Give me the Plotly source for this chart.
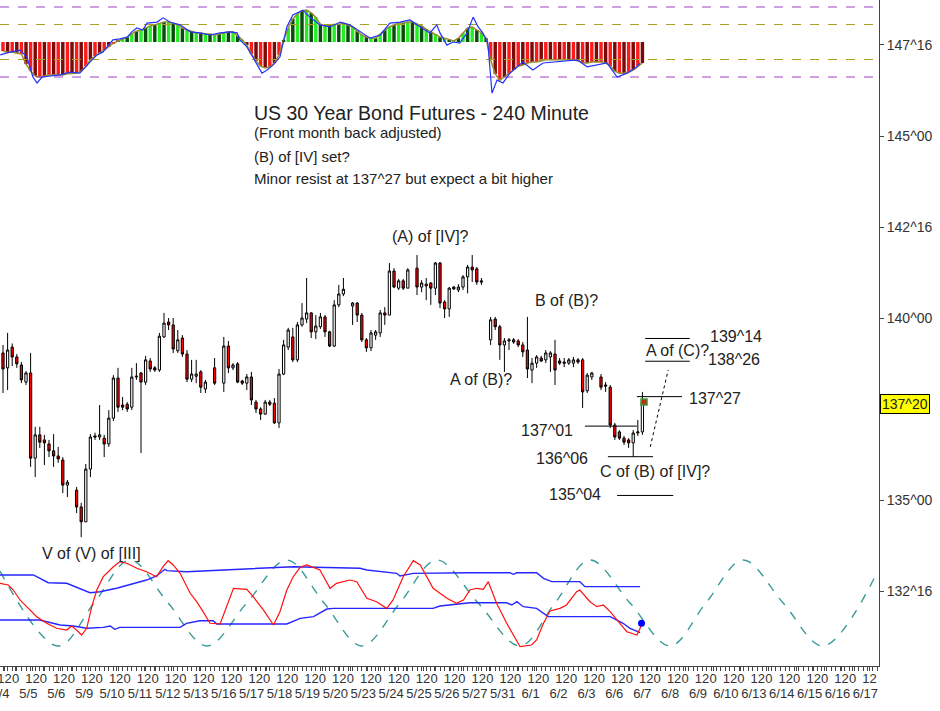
import plotly.graph_objects as go

# ---------------- price data (4-hour bars, bar index) ----------------
bar_idx = [0,1,2,3,4,5,6,7,8,9,10,11,12,13,14,16,17,18,19,20,21,22,23,24,25,26,27,28,29,30,
           31,32,33,34,35,36,37,38,39,40,41,42,43,44,46,48,49,50,51,52,53,54,55,56,57,58,59,60,
           61,62,63,64,65,66,67,68,69,70,71,72,73,74,76,77,78,79,80,81,82,83,84,85,86,87,88,90,
           91,92,93,94,95,96,97,98,99,100,101,102,103,104,106,107,108,109,110,111,112,113,114,
           115,116,117,118,119,120,121,122,123,124,125,126,127,128,130,131,132,133,134,135,136,
           137,138,139]
opens = [139.04,138.63,139.20,138.93,138.71,138.24,138.49,136.15,136.79,136.65,136.54,136.35,136.21,136.10,135.41,
         135.27,134.81,134.40,135.85,136.76,136.73,136.70,136.54,137.25,138.35,137.61,137.63,137.55,138.38,138.49,
         138.24,138.82,138.63,138.57,139.48,139.89,139.81,139.10,139.45,139.01,138.32,138.40,138.52,138.05,138.63,
         138.21,139.23,138.63,138.74,138.27,138.21,138.38,137.69,137.50,137.36,137.69,137.66,137.12,138.46,139.20,
         139.48,138.85,139.81,139.97,140.14,139.62,139.76,140.03,139.62,139.23,140.36,140.66,140.33,140.41,140.08,
         139.40,139.18,139.53,139.59,140.14,140.08,141.29,140.82,141.02,140.82,141.37,140.85,140.88,140.96,140.82,
         141.51,140.44,140.25,140.85,140.77,140.85,141.13,141.40,141.35,141.02,139.40,139.97,139.76,139.26,139.37,
         139.40,139.37,139.26,139.12,138.57,138.76,138.90,138.85,138.93,139.01,138.82,138.79,138.76,138.76,138.85,
         138.85,138.00,138.38,138.38,138.16,138.10,137.06,136.87,136.70,136.65,136.57,136.84,136.87]
highs = [139.26,139.59,139.30,139.01,138.79,138.54,139.04,137.01,137.01,136.79,136.65,136.81,136.46,136.18,135.55,
         135.36,134.92,135.99,136.81,136.85,137.61,136.79,137.47,138.43,138.63,137.83,137.69,138.63,138.76,138.52,
         138.96,138.90,138.68,139.59,140.14,140.00,140.00,139.67,139.53,139.12,138.85,138.85,138.57,138.30,138.90,
         139.48,139.37,138.76,138.79,138.30,138.46,138.52,137.75,137.55,137.75,137.75,137.80,138.60,139.40,139.73,
         139.73,139.89,140.41,141.10,140.16,140.08,140.14,140.08,139.65,140.49,140.91,141.10,140.44,140.44,140.14,
         139.45,139.67,139.67,140.22,140.30,141.51,141.37,141.07,141.07,141.37,141.73,141.04,141.10,140.99,141.54,
         141.54,140.49,140.85,140.88,140.93,141.18,141.46,141.73,141.40,141.10,140.03,140.03,139.81,139.45,139.45,
         139.45,139.42,139.34,140.03,138.90,138.98,138.96,139.12,139.09,139.40,138.90,138.90,138.90,138.93,138.90,
         138.90,138.49,138.52,138.46,138.24,138.16,137.12,136.92,136.76,136.70,136.92,137.20,137.97]
lows = [137.94,138.02,138.68,138.63,138.21,138.16,135.91,135.63,136.43,135.96,136.18,135.91,136.02,135.19,135.08,
        134.64,133.98,134.40,135.63,136.65,136.65,136.18,136.46,137.17,137.42,137.47,137.42,137.47,138.30,136.29,
        138.16,138.52,138.52,138.52,139.45,139.67,139.04,139.04,138.93,138.24,138.24,138.21,137.94,137.94,138.16,
        137.97,138.49,138.57,138.21,138.16,138.02,137.61,137.39,137.20,137.34,137.58,137.09,136.98,138.43,139.12,
        138.79,138.79,139.76,139.86,139.45,139.42,139.70,139.48,139.20,139.20,140.30,140.60,139.81,139.89,139.34,
        139.07,139.09,139.40,139.48,139.81,140.08,140.82,140.77,140.77,140.82,140.63,140.71,140.49,140.36,140.63,
        140.27,140.00,140.03,140.77,140.71,140.77,140.68,140.99,140.91,140.91,139.26,139.67,138.85,138.52,139.12,
        139.29,139.20,138.93,138.35,138.21,138.63,138.79,138.76,138.52,138.16,138.71,138.65,138.71,138.65,138.74,
        137.53,137.94,138.30,138.02,137.97,136.98,136.65,136.65,136.51,136.43,136.19,136.76,136.79]
closes = [138.60,139.12,138.93,138.74,138.30,138.49,136.15,136.79,136.59,136.57,136.35,136.21,136.13,135.41,135.49,
          134.81,134.40,135.85,136.73,136.73,136.79,136.54,137.25,138.35,137.55,137.55,137.50,138.38,138.40,138.24,
          138.85,138.60,138.57,139.50,139.86,139.81,139.15,139.40,139.01,138.32,138.46,138.46,138.10,138.24,138.21,
          139.23,138.63,138.71,138.24,138.21,138.38,137.75,137.50,137.36,137.69,137.63,137.12,138.46,139.26,139.67,
          138.85,139.81,140.00,140.14,139.62,139.78,140.03,139.62,139.23,140.36,140.66,140.79,140.41,140.08,139.40,
          139.18,139.59,139.62,140.14,140.08,141.29,140.85,141.02,140.82,141.32,140.85,140.96,140.93,140.82,141.51,
          140.41,140.25,140.82,140.80,140.85,141.13,141.40,141.32,140.99,140.99,139.95,139.76,139.26,139.37,139.40,
          139.34,139.26,139.07,138.60,138.76,138.93,138.82,139.04,139.04,138.57,138.76,138.76,138.85,138.85,138.79,
          137.97,138.43,138.49,138.10,138.13,137.06,136.73,136.70,136.59,136.57,136.84,136.87,137.69]
last_price = 137.625
last_bar = 139

# ---------------- top histogram oscillator ----------------
hist_vals = [-26,-29,-29,-31,-34,-63,-83,-97,-100,-97,-94,-94,-94,-94,-91,-91,-89,-83,-69,-51,
             -40,-31,-23,-14,-3,3,9,14,23,31,34,40,46,49,54,57,57,54,49,40,
             34,31,26,26,23,23,20,23,26,29,29,17,6,-9,-34,-54,-69,-74,-71,-60,
             -37,6,40,66,80,89,91,83,71,51,46,49,49,51,54,49,43,31,20,14,
             11,11,23,34,43,49,54,54,57,57,51,46,37,29,23,14,11,6,3,11,
             26,40,43,34,26,11,-51,-91,-109,-100,-91,-80,-69,-66,-60,-57,-57,-54,-51,-51,
             -51,-51,-51,-51,-51,-54,-60,-60,-57,-57,-57,-60,-69,-83,-89,-89,-86,-80,-69,-60]
fast_x = [-0.6,1.5,3.7,5.2,6.5,7.4,8.5,10.2,12.4,14.6,16.7,18.3,20.4,21.7,23.9,25.4,27.0,28.0,29.1,30.4,
          31.3,33.5,34.8,36.3,38.5,40.7,42.8,45.0,47.2,49.3,50.9,51.5,53.0,54.3,56.3,57.4,58.7,60.2,61.7,63.0,
          65.2,66.7,68.9,71.1,73.3,75.4,77.6,79.8,82.0,84.1,86.3,88.5,90.7,92.8,94.3,95.0,96.5,97.8,99.3,100.9,
          102.2,103.3,104.3,105.4,106.3,107.4,108.7,110.2,113.0,115.2,117.4,119.6,124.8,127.0,129.1,131.3,133.5,135.7,137.8,138.5]
fast_y = [-37,-29,-23,-43,-100,-117,-100,-97,-94,-86,-89,-66,-37,-29,6,9,14,29,40,34,
          54,57,69,57,49,29,26,20,26,29,26,6,-14,-43,-89,-80,-66,-43,43,77,
          91,71,49,43,57,49,29,11,20,54,57,63,43,26,49,26,-9,0,-3,26,
          71,43,26,-3,-146,-109,-117,-89,-57,-80,-60,-57,-51,-71,-66,-60,-100,-89,-71,-60]
hist_levels = [100, 50, -50, -100]

# ---------------- bottom cycle oscillator ----------------
osc_x = [-0.65,1.15,2.24,3.7,5.15,7.33,9.5,11.67,13.85,14.93,16.0,17.1,18.2,19.3,20.4,21.8,24.0,25.4,26.9,29.1,
         31.2,33.4,34.8,35.9,37.0,38.5,40.7,42.1,43.5,45.0,47.2,48.6,50.1,53.0,54.4,56.6,58.8,60.2,61.7,63.1,
         64.6,66.0,68.9,71.1,72.5,75.4,76.9,79.1,81.2,83.4,84.8,87.0,89.2,90.7,93.5,96.5,98.6,100.1,101.5,103.0,
         104.4,105.5,107.3,109.5,112.4,114.9,116.0,117.5,118.9,121.1,122.5,124.7,125.4,127.6,129.1,130.5,132.0,134.1,135.6,137.8,
         138.5,138.8]
osc_y = [72.9,70.9,65.1,53.5,45.7,34.1,26.4,20.6,18.6,23.3,18.6,12.8,20.6,45.7,65.1,80.6,92.2,98.0,96.2,90.4,
         86.4,80.6,92.2,99.2,94.2,84.5,61.3,51.5,39.9,26.4,25.6,45.7,67.1,65.9,57.3,41.9,24.4,39.9,65.1,80.6,
         91.5,94.2,88.4,67.1,72.9,76.7,74.8,55.5,51.5,43.8,53.5,80.6,99.2,94.2,67.1,55.5,49.7,53.5,65.1,67.1,
         65.9,74.8,49.7,26.4,-0.8,1.2,7.0,26.4,40.7,43.8,47.7,63.1,65.1,51.5,45.7,47.7,39.9,26.4,16.6,12.8,
         20.6,26.4]
upper_x = [-0.65,6.6,9.85,13.85,18.9,21.1,24.7,28.3,31.2,33.4,35.2,35.6,39.9,63.1,77.6,79.1,85.6,86.3,89.2,101.5,
           110.2,110.9,111.7,116.0,117.5,119.3,125.4,126.5,138.5]
upper_y = [82.6,82.6,73.6,72.9,62.0,63.1,67.1,72.9,76.7,81.4,89.2,87.6,86.4,92.2,90.4,88.4,84.5,81.4,84.5,85.2,
           85.2,83.4,85.2,85.2,78.7,74.8,74.8,69.0,69.0]
lower_x = [-0.65,8.0,12.4,15.3,18.2,21.8,23.3,24.3,25.4,38.5,39.9,42.8,45.7,46.5,61.7,64.6,67.5,70.4,71.8,93.5,
           95.0,101.5,109.5,110.6,111.7,113.1,116.0,118.5,132.0,134.8,136.3,138.5]
lower_y = [30.2,30.2,24.4,23.3,20.6,21.7,23.3,19.4,21.7,21.7,26.4,29.4,29.4,25.6,25.6,32.2,34.1,43.0,43.8,43.8,
           46.5,50.3,50.3,47.7,51.5,45.7,43.8,34.1,34.1,26.4,20.6,15.5]
cycle_x = [-0.65,11.96,19.8,27.6,35.9,44.3,53.0,61.7,69.8,78.0,86.3,94.3,103.3,112.4,120.0,127.6,136.3,145.0,
           152.8,160.9,169.6,178.3,189.6]
cycle_y = [87,0,50,100,50,0,50,100,50,0,50,100,50,0,50,100,50,0,50,100,50,0,81]

# ---------------- annotation levels ----------------
level_vals = [137.84, 137.03, 136.19, 135.125, 139.4375, 138.8125]
level_x0 = [137.8, 126.5, 131.5, 133.5, 139.6, 139.6]
level_x1 = [147.6, 137.8, 141.3, 145.7, 149.3, 149.3]
proj_x = [140.7, 144.6]
proj_y = [136.46, 138.57]

# ---------------- axis labels ----------------
dates = ['5/4','5/5','5/6','5/9','5/10','5/11','5/12','5/13','5/16','5/17','5/18','5/19','5/20','5/23',
         '5/24','5/25','5/26','5/27','5/31','6/1','6/2','6/3','6/6','6/7','6/8','6/9','6/10','6/13',
         '6/14','6/15','6/16','6/17']
day_pos = [-0.54,5.52,11.59,17.66,23.72,29.79,35.85,41.92,47.98,54.05,60.11,66.18,72.24,78.31,84.37,90.44,
           96.50,102.57,108.63,114.70,120.76,126.83,132.89,138.96,145.02,151.09,157.15,163.22,169.28,175.35,
           181.41,187.48]
price_ticks = [147.5, 145.0, 142.5, 140.0, 135.0, 132.5]
price_ticktext = ['147^16', '145^00', '142^16', '140^00', '135^00', '132^16']

FONT = 'Liberation Sans'
TXT = '#222222'

fig = go.Figure()

# top histogram
hcol = []
for i, v in enumerate(hist_vals):
    if v >= 0:
        hcol.append('#22ee22' if i % 2 == 0 else '#0a4a0a')
    else:
        hcol.append('#ff1a1a' if i % 2 == 0 else '#7a0a0a')
fig.add_trace(go.Bar(x=list(range(len(hist_vals))), y=hist_vals, marker_color=hcol,
                     marker_line_width=0, width=0.75, yaxis='y2', hoverinfo='skip'))
fig.add_trace(go.Scatter(x=list(range(len(hist_vals))), y=hist_vals, mode='lines',
                         line=dict(color='#9a8a30', width=1.5), yaxis='y2', hoverinfo='skip'))
for lv in hist_levels:
    col = '#a040c0' if abs(lv) == 100 else '#a8a020'
    fig.add_trace(go.Scatter(x=[-0.652, 190.43], y=[lv, lv], mode='lines',
                             line=dict(color=col, width=1, dash='dash'), yaxis='y2', hoverinfo='skip'))
fig.add_trace(go.Scatter(x=fast_x, y=fast_y, mode='lines', line=dict(color='#2233ff', width=1.2),
                         yaxis='y2', hoverinfo='skip'))

# candles
fig.add_trace(go.Candlestick(x=bar_idx, open=opens, high=highs, low=lows, close=closes,
                             increasing=dict(fillcolor='white', line=dict(color='black', width=1)),
                             decreasing=dict(fillcolor='#ff0000', line=dict(color='black', width=1)),
                             whiskerwidth=0, hoverinfo='skip'))
fig.add_trace(go.Scatter(x=[last_bar + 0.35], y=[closes[-1]], mode='markers',
                         marker=dict(symbol='square', size=6, color='#c03010',
                                     line=dict(color='#3a9a3a', width=1.5)), hoverinfo='skip'))

# level lines
for lv, a, b in zip(level_vals, level_x0, level_x1):
    fig.add_trace(go.Scatter(x=[a, b], y=[lv, lv], mode='lines', line=dict(color='black', width=1),
                             hoverinfo='skip'))
fig.add_trace(go.Scatter(x=proj_x, y=proj_y, mode='lines', line=dict(color='black', width=1, dash='dot'),
                         hoverinfo='skip'))

# bottom oscillator
fig.add_trace(go.Scatter(x=cycle_x, y=cycle_y, mode='lines', line=dict(color='#3a9a9a', width=1.4, dash='dash', shape='spline', smoothing=1.0),
                         yaxis='y3', hoverinfo='skip'))
fig.add_trace(go.Scatter(x=upper_x, y=upper_y, mode='lines', line=dict(color='#2626ff', width=1.4),
                         yaxis='y3', hoverinfo='skip'))
fig.add_trace(go.Scatter(x=lower_x, y=lower_y, mode='lines', line=dict(color='#2626ff', width=1.4),
                         yaxis='y3', hoverinfo='skip'))
fig.add_trace(go.Scatter(x=osc_x, y=osc_y, mode='lines', line=dict(color='#ff1010', width=1.2),
                         yaxis='y3', hoverinfo='skip'))
fig.add_trace(go.Scatter(x=[osc_x[-1]], y=[osc_y[-1]], mode='markers',
                         marker=dict(color='#0000ff', size=7), yaxis='y3', hoverinfo='skip'))

ann = []
def txt(t, x, y, size=16, xanchor='left', xref='x', yref='y'):
    ann.append(dict(text=t, x=x, y=y, xref=xref, yref=yref, xanchor=xanchor, yanchor='middle',
                    showarrow=False, font=dict(family=FONT, size=size, color=TXT)))

txt('US 30 Year Bond Futures - 240 Minute', 0.2867, 0.8303, size=19.5, xref='paper', yref='paper')
txt('(Front month back adjusted)', 0.2867, 0.8018, size=15, xref='paper', yref='paper')
txt('(B) of [IV] set?', 0.2867, 0.7643, size=15, xref='paper', yref='paper')
txt('Minor resist at 137^27 but expect a bit higher', 0.2867, 0.7327, size=15, xref='paper', yref='paper')
txt('(A) of [IV]?', 93.0, 142.25, xanchor='center')
txt('B of (B)?', 122.4, 140.49, xanchor='center')
txt('A of (B)?', 103.9, 138.30, xanchor='center')
txt('137^01', 124.3, 136.90, xanchor='right')
txt('136^06', 127.6, 136.13, xanchor='right')
txt('C of (B) of [IV]?', 129.3, 135.77)
txt('135^04', 130.4, 135.16, xanchor='right')
txt('A of (C)?', 139.3, 139.12)
txt('139^14', 153.3, 139.48)
txt('138^26', 152.8, 138.85)
txt('137^27', 148.7, 137.80)
txt('V of (V) of [III]', 8.0, 133.54)
ann.append(dict(text='137^20', x=1.0015, y=last_price, xref='paper', yref='y', xanchor='left', yanchor='middle',
                showarrow=False, bgcolor='#ffff00', bordercolor='black', borderwidth=1, borderpad=1,
                font=dict(family=FONT, size=14, color='#222')))

label_pos = [p + 0.87 for p in day_pos] + [p + 3.26 for p in day_pos]
label_txt = ['12'] * len(day_pos) + ['0'] * len(day_pos)

fig.update_layout(
    width=940, height=711, margin=dict(l=0, r=61, t=0, b=45, autoexpand=False),
    paper_bgcolor='white', plot_bgcolor='white', showlegend=False,
    font=dict(family=FONT, color='#333'),
    annotations=ann,
    xaxis=dict(range=[-0.652, 190.43], rangeslider=dict(visible=False), showgrid=False, zeroline=False,
               automargin=False, ticklabeloverflow='allow',
               showline=True, linecolor='#444', linewidth=1, tickmode='array', tickvals=label_pos,
               ticktext=label_txt, ticks='outside', ticklen=4, tickcolor='#444', tickangle=0,
               ticklabelstandoff=-4,
               tickfont=dict(family=FONT, size=13, color='#333'),
               minor=dict(tickmode='linear', tick0=0, dtick=1, ticks='outside', ticklen=4, tickcolor='#444')),
    xaxis2=dict(range=[-0.652, 190.43], overlaying='x', anchor='y', side='bottom', showgrid=False,
                automargin=False, ticklabeloverflow='allow',
                zeroline=False, showline=False, tickmode='array', tickvals=day_pos, ticktext=dates,
                ticks='', tickangle=0, ticklabelstandoff=18,
                tickfont=dict(family=FONT, size=13, color='#333')),
    yaxis=dict(range=[130.44, 148.736], side='right', showgrid=False, zeroline=False, showline=True,
               automargin=False,
               linecolor='#444', linewidth=1, tickmode='array', tickvals=price_ticks, ticktext=price_ticktext,
               ticks='outside', ticklen=4, tickcolor='#444', tickfont=dict(family=FONT, size=14, color='#333')),
    yaxis2=dict(range=[-1782.9, 120], overlaying='y', visible=False),
    yaxis3=dict(range=[-23.26, 751.2], overlaying='y', visible=False),
)
# invisible trace to register xaxis2
fig.add_trace(go.Scatter(x=[0], y=[140], xaxis='x2', mode='markers', marker=dict(opacity=0), hoverinfo='skip'))

fig.write_html('out.html', config={'displayModeBar': False},
               post_script="document.body.style.margin='0';document.body.style.padding='0';")
